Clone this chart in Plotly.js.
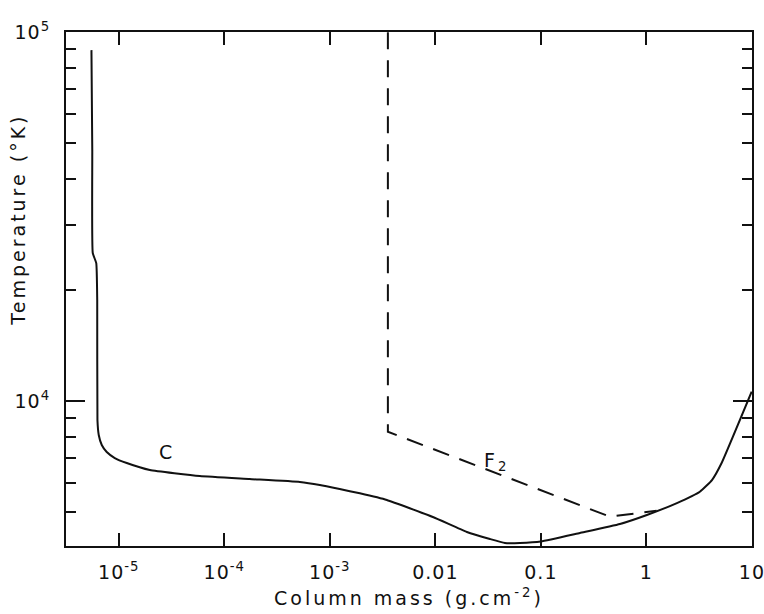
<!DOCTYPE html>
<html>
<head>
<meta charset="utf-8">
<script src="https://cdn.plot.ly/plotly-3.0.1.min.js"></script>
<style>
  html, body { margin: 0; padding: 0; background: #fff; }
  #chart { width: 764px; height: 614px; }
  .xtitle, .annotation-text { letter-spacing: 3px; }
  .xtick text, .ytick text { letter-spacing: 1px; }
</style>
</head>
<body>
<div id="chart"></div>
<script>
// Curve C (solid)
const columnMassC = [5.51e-6, 5.61e-6, 5.67e-6, 6.12e-6, 6.25e-6, 6.28e-6, 6.46e-6, 6.90e-6, 7.69e-6, 9.17e-6,
  1.19e-5, 1.97e-5, 5.86e-5, 1.74e-4, 5.20e-4, 8.04e-4, 1.24e-3, 1.925e-3, 3.47e-3, 9.47e-3, 0.0199, 0.0329,
  0.0456, 0.0632, 0.1, 0.234, 0.561, 1.01, 1.945, 3.21, 4.18, 5.16, 9.94];
const temperatureC = [89400, 47900, 25200, 23650, 18780, 8880, 8090, 7600, 7275, 7007,
  6792, 6501, 6261, 6145, 6032, 5920, 5774, 5620, 5391, 4849, 4416, 4227,
  4123, 4123, 4161, 4388, 4642, 4911, 5290, 5678, 6107, 6792, 10600];

// Curve F2 (dashed)
const columnMassF2 = [3.55e-3, 3.55e-3, 0.451, 1.25];
const temperatureF2 = [100000, 8256, 4859, 5043];

// Axis ticks
const xTickVals = [1e-5, 1e-4, 1e-3, 0.01, 0.1, 1, 10];
const xTickText = ['10<sup>-5</sup>', '10<sup>-4</sup>', '10<sup>-3</sup>', '0.01', '0.1', '1', '10'];
const yTickVals = [1e4, 1e5];
const yTickText = ['10<sup>4</sup>', '10<sup>5</sup>'];
const yMinorVals = [5000, 6000, 7000, 8000, 9000, 20000, 30000, 40000, 50000, 60000, 70000, 80000, 90000];

const fontFam = 'DejaVu Sans, sans-serif';
const ink = '#111';

const traces = [
  { x: columnMassC, y: temperatureC, type: 'scatter', mode: 'lines', name: 'C',
    line: { color: ink, width: 2, shape: 'spline', smoothing: 0.4 } },
  { x: columnMassF2, y: temperatureF2, type: 'scatter', mode: 'lines', name: 'F2',
    line: { color: ink, width: 2, dash: '17px,11px' } }
];

const layout = {
  width: 764, height: 614,
  margin: { l: 66, r: 12, t: 32, b: 68 },
  paper_bgcolor: '#fff', plot_bgcolor: '#fff',
  showlegend: false,
  font: { family: fontFam, color: ink, size: 18 },
  xaxis: {
    type: 'log', range: [-5.5, 1.0005],
    tickmode: 'array', tickvals: xTickVals, ticktext: xTickText,
    ticks: 'inside', ticklen: 13, tickwidth: 2, tickcolor: ink,
    showline: true, linewidth: 2, linecolor: ink, mirror: 'ticks',
    showgrid: false, zeroline: false,
    tickfont: { family: fontFam, size: 19, color: ink },
    ticklabelstandoff: 8, ticklabeloverflow: 'allow',
    title: { text: 'Column mass (g.cm<sup>-2</sup>)', font: { family: fontFam, size: 19, color: ink }, standoff: 10 }
  },
  yaxis: {
    type: 'log', range: [3.607, 5.0005],
    tickmode: 'array', tickvals: yTickVals, ticktext: yTickText,
    ticks: 'inside', ticklen: 19, tickwidth: 2, tickcolor: ink,
    minor: { tickmode: 'array', tickvals: yMinorVals, ticks: 'inside', ticklen: 10, tickwidth: 2, tickcolor: ink, showgrid: false },
    showline: true, linewidth: 2, linecolor: ink, mirror: 'ticks',
    showgrid: false, zeroline: false,
    tickfont: { family: fontFam, size: 19, color: ink },
    ticklabelstandoff: 10, ticklabeloverflow: 'allow'
  },
  annotations: [
    { text: 'Temperature (°K)', xref: 'paper', yref: 'paper', x: -0.07, y: 0.845, xanchor: 'center', yanchor: 'top',
      textangle: -90, showarrow: false, font: { family: fontFam, size: 19, color: ink } },
    { text: 'C', xref: 'x', yref: 'y', x: -4.545, y: 3.862, showarrow: false,
      font: { family: fontFam, size: 19, color: ink } },
    { text: 'F<sub>2</sub>', xref: 'x', yref: 'y', x: -1.42, y: 3.835, showarrow: false,
      font: { family: fontFam, size: 19, color: ink } }
  ]
};

Plotly.newPlot('chart', traces, layout, { staticPlot: true, displayModeBar: false });
</script>
</body>
</html>
